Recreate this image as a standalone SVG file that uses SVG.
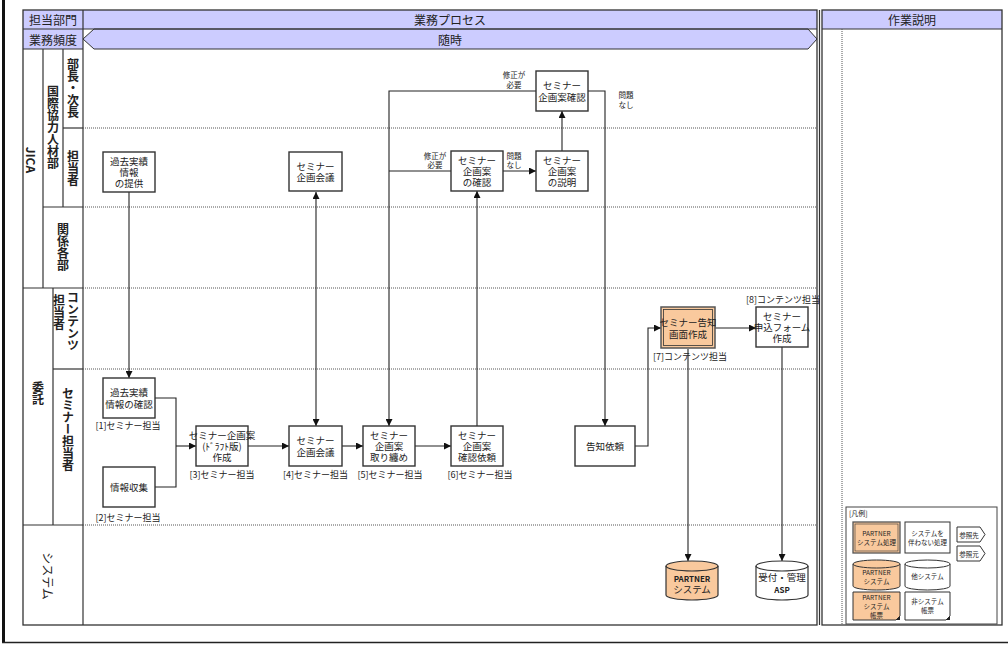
<svg xmlns="http://www.w3.org/2000/svg" width="1008" height="645" viewBox="0 0 1008 645">
<defs>
<style>
text{font-family:"Noto Sans CJK JP","Liberation Sans",sans-serif;fill:#222}
.hdr{font-size:12px;text-anchor:middle;dominant-baseline:central}
.lane{font-size:12px;font-weight:bold;text-anchor:middle;writing-mode:vertical-rl}
.box{fill:#fff;stroke:#333;stroke-width:1.4}
.org{fill:#f9c99d}
.t{font-size:9.5px;text-anchor:middle;dominant-baseline:central}
.lb{font-size:9px;text-anchor:middle;dominant-baseline:central}
.sm{font-size:7.5px;text-anchor:middle;dominant-baseline:central}
.lg{font-size:6.5px;text-anchor:middle;dominant-baseline:central}
.dot{stroke:#555;stroke-width:1;stroke-dasharray:1,1;fill:none}
.ln{stroke:#333;stroke-width:1.2;fill:none}
.c{stroke:#222;stroke-width:1.1;fill:none}
.ca{stroke:#222;stroke-width:1.1;fill:none;marker-end:url(#ah)}
.cb{stroke:#222;stroke-width:1.1;fill:none;marker-end:url(#ah);marker-start:url(#as)}
.cyl{stroke:#333;stroke-width:1.2}
</style>
<marker id="ah" viewBox="0 0 8 8" refX="8" refY="4" markerWidth="7" markerHeight="7" markerUnits="userSpaceOnUse" orient="auto"><path d="M0,0 L8,4 L0,8 Z" fill="#111"/></marker>
<marker id="as" viewBox="0 0 8 8" refX="0" refY="4" markerWidth="7" markerHeight="7" markerUnits="userSpaceOnUse" orient="auto"><path d="M8,0 L0,4 L8,8 Z" fill="#111"/></marker>
</defs>
<rect width="1008" height="645" fill="#fff"/>
<!-- outer frame -->
<line x1="3.5" y1="0" x2="3.5" y2="643" stroke="#111" stroke-width="3"/>
<line x1="2" y1="642.5" x2="1008" y2="642.5" stroke="#222" stroke-width="1.5"/>

<!-- main table -->
<g id="table">
<rect x="23" y="10" width="794" height="19" fill="#ccccff"/>
<rect x="23" y="29" width="60" height="20" fill="#ccccff"/>
<path d="M94,29 H808 L817,39 L808,49 H94 L83,39 Z" fill="#ccccff" stroke="#333" stroke-width="1"/>
<rect x="23" y="10" width="794" height="615" fill="none" stroke="#333" stroke-width="1.3"/>
<line x1="819.5" y1="10" x2="819.5" y2="625" stroke="#333" stroke-width="1.2"/>
<line x1="23" y1="29" x2="817" y2="29" class="ln"/>
<line x1="23" y1="49" x2="83" y2="49" class="ln"/>
<line x1="83" y1="10" x2="83" y2="625" class="ln"/>
<!-- lane label grid -->
<line x1="43" y1="49" x2="43" y2="288" class="ln"/>
<line x1="63" y1="49" x2="63" y2="207" class="ln"/>
<line x1="63" y1="128" x2="83" y2="128" class="ln"/>
<line x1="43" y1="207" x2="83" y2="207" class="ln"/>
<line x1="23" y1="288" x2="83" y2="288" class="ln"/>
<line x1="53" y1="288" x2="53" y2="525" class="ln"/>
<line x1="53" y1="369" x2="83" y2="369" class="ln"/>
<line x1="23" y1="525" x2="83" y2="525" class="ln"/>
<!-- dotted lane separators -->
<line x1="83" y1="128" x2="816" y2="128" class="dot"/>
<line x1="83" y1="207" x2="816" y2="207" class="dot"/>
<line x1="83" y1="288" x2="816" y2="288" class="dot"/>
<line x1="83" y1="369" x2="816" y2="369" class="dot"/>
<line x1="83" y1="525" x2="816" y2="525" class="dot"/>
<!-- header texts -->
<text class="hdr" x="53" y="19.5">担当部門</text>
<text class="hdr" x="53" y="39">業務頻度</text>
<text class="hdr" x="450" y="19.5">業務プロセス</text>
<text class="hdr" x="450" y="39">随時</text>
<!-- lane labels -->
<text transform="translate(31,160) rotate(90)" font-size="12" font-weight="bold" text-anchor="middle" dominant-baseline="central">JICA</text>
<text class="lane" x="53" y="127">国際協力人材部</text>
<text class="lane" x="73" y="88">部長・次長</text>
<text class="lane" x="73" y="168">担当者</text>
<text class="lane" x="63" y="247">関係各部</text>
<text class="lane" x="38" y="393">委託</text>
<text class="lane" x="73" y="321">コンテンツ<tspan x="59" y="312">担当者</tspan></text>
<text class="lane" x="68" y="429" font-size="13">セミナー担当者</text>
<text transform="translate(48,576) rotate(90)" font-size="12" text-anchor="middle" dominant-baseline="central">システム</text>
</g>

<!-- right panel -->
<g id="panel">
<rect x="822" y="10" width="180" height="19" fill="#ccccff"/>
<rect x="822" y="10" width="180" height="615" fill="none" stroke="#333" stroke-width="1.3"/>
<line x1="822" y1="29" x2="1002" y2="29" class="ln"/>
<line x1="842" y1="29" x2="842" y2="625" class="dot"/>
<text class="hdr" x="912" y="19.5">作業説明</text>
</g>

<!-- connectors -->
<g id="connectors">
<path class="ca" d="M129,192 V378"/>
<path class="c" d="M155,398 H176 V487 H155"/>
<path class="ca" d="M176,446 H196"/>
<path class="ca" d="M248,446 H289"/>
<path class="cb" d="M316,192 V426"/>
<path class="ca" d="M342,446 H363"/>
<path class="ca" d="M415,446 H451"/>
<path class="ca" d="M477,426 V191"/>
<path class="ca" d="M503,171 H536"/>
<path class="ca" d="M562,151 V111"/>
<path class="ca" d="M536,91 H389 V426"/>
<path class="c" d="M451,171 H389"/>
<path class="ca" d="M588,91 H605 V426"/>
<path class="ca" d="M635,446 H648 V328 H661"/>
<path class="ca" d="M715,328 H756"/>
<path class="ca" d="M688,349 V561"/>
<path class="ca" d="M782,347 V561"/>
<text class="sm" x="514" y="74">修正が<tspan x="514" dy="10">必要</tspan></text>
<text class="sm" x="626" y="94">問題<tspan x="626" dy="10">なし</tspan></text>
<text class="sm" x="435" y="155">修正が<tspan x="435" dy="9">必要</tspan></text>
<text class="sm" x="514" y="155">問題<tspan x="514" dy="9">なし</tspan></text>
</g>

<!-- nodes -->
<g id="n1"><rect class="box" x="103" y="152" width="52" height="40"/>
<text class="t" x="129" y="161">過去実績<tspan x="129" dy="11">情報</tspan><tspan x="129" dy="11">の提供</tspan></text></g>
<g id="n2"><rect class="box" x="289" y="152" width="53" height="39"/>
<text class="t" x="315.5" y="166">セミナー<tspan x="315.5" dy="11">企画会議</tspan></text></g>
<g id="n3"><rect class="box" x="451" y="151" width="52" height="40"/>
<text class="t" x="477" y="160">セミナー<tspan x="477" dy="11">企画案</tspan><tspan x="477" dy="11">の確認</tspan></text></g>
<g id="n4"><rect class="box" x="536" y="151" width="52" height="40"/>
<text class="t" x="562" y="160">セミナー<tspan x="562" dy="11">企画案</tspan><tspan x="562" dy="11">の説明</tspan></text></g>
<g id="n5"><rect class="box" x="536" y="71" width="52" height="40"/>
<text class="t" x="562" y="85">セミナー<tspan x="562" dy="12">企画案確認</tspan></text></g>
<g id="n6"><rect class="box" x="103" y="378" width="52" height="40"/>
<text class="t" x="129" y="392">過去実績<tspan x="129" dy="12">情報の確認</tspan></text>
<text class="lb" x="128" y="425">[1]セミナー担当</text></g>
<g id="n7"><rect class="box" x="103" y="467" width="52" height="40"/>
<text class="t" x="129" y="487">情報収集</text>
<text class="lb" x="128" y="517">[2]セミナー担当</text></g>
<g id="n8"><rect class="box" x="196" y="426" width="52" height="40"/>
<text class="t" x="222" y="435">セミナー企画案<tspan x="222" dy="11">(ﾄﾞﾗﾌﾄ版)</tspan><tspan x="222" dy="11">作成</tspan></text>
<text class="lb" x="222" y="474">[3]セミナー担当</text></g>
<g id="n9"><rect class="box" x="289" y="426" width="53" height="40"/>
<text class="t" x="315.5" y="440">セミナー<tspan x="315.5" dy="12">企画会議</tspan></text>
<text class="lb" x="315.5" y="474">[4]セミナー担当</text></g>
<g id="n10"><rect class="box" x="363" y="426" width="52" height="40"/>
<text class="t" x="389" y="435">セミナー<tspan x="389" dy="11">企画案</tspan><tspan x="389" dy="11">取り纏め</tspan></text>
<text class="lb" x="390" y="474">[5]セミナー担当</text></g>
<g id="n11"><rect class="box" x="451" y="426" width="52" height="40"/>
<text class="t" x="477" y="435">セミナー<tspan x="477" dy="11">企画案</tspan><tspan x="477" dy="11">確認依頼</tspan></text>
<text class="lb" x="480" y="474">[6]セミナー担当</text></g>
<g id="n12"><rect class="box" x="575" y="426" width="60" height="40"/>
<text class="t" x="605" y="446">告知依頼</text></g>
<g id="n13"><rect x="661" y="307" width="54" height="41" class="org" stroke="#555" stroke-width="1.5"/>
<rect x="663.5" y="309.5" width="49" height="36" fill="none" stroke="#333" stroke-width="0.8"/>
<text class="t" x="688" y="322">セミナー告知<tspan x="688" dy="12">画面作成</tspan></text>
<text class="lb" x="690" y="356">[7]コンテンツ担当</text></g>
<g id="n14"><rect class="box" x="756" y="307" width="52" height="40"/>
<text class="t" x="782" y="316">セミナー<tspan x="782" dy="11">申込フォーム</tspan><tspan x="782" dy="11">作成</tspan></text>
<text class="lb" x="783" y="299">[8]コンテンツ担当</text></g>
<g id="n15"><path class="cyl org" d="M666,566 A26,5 0 0 1 718,566 V595 A26,5 0 0 1 666,595 Z"/>
<path class="cyl" fill="none" d="M666,566 A26,5 0 0 0 718,566"/>
<text x="692" y="578" font-size="8" font-weight="bold" text-anchor="middle" dominant-baseline="central">PARTNER<tspan x="692" dy="11" font-size="9.5" font-weight="normal">システム</tspan></text></g>
<g id="n16"><path class="cyl" fill="#fff" d="M756,566 A26,5 0 0 1 808,566 V595 A26,5 0 0 1 756,595 Z"/>
<path class="cyl" fill="none" d="M756,566 A26,5 0 0 0 808,566"/>
<text class="t" x="782" y="577">受付・管理<tspan x="782" dy="12" font-size="8" font-weight="bold">ASP</tspan></text></g>

<!-- legend -->
<g id="legend">
<rect x="846" y="507" width="151" height="117" fill="#fff" stroke="#444" stroke-width="1"/>
<text x="849" y="513" font-size="7" dominant-baseline="central">[凡例]</text>
<rect x="853" y="522" width="47" height="31" class="org" stroke="#555" stroke-width="1.3"/>
<rect x="855" y="524" width="43" height="27" fill="none" stroke="#333" stroke-width="0.6"/>
<text class="lg" x="876.5" y="533">PARTNER<tspan x="876.5" dy="9">システム処理</tspan></text>
<rect x="905" y="522" width="45" height="31" fill="#fff" stroke="#333" stroke-width="1"/>
<text class="lg" x="927.5" y="533">システムを<tspan x="927.5" dy="9">伴わない処理</tspan></text>
<path d="M957,527 H980 L985,534.5 L980,542 H957 Z" fill="#fff" stroke="#333" stroke-width="1"/>
<text class="lg" x="969" y="534.5">参照先</text>
<path d="M957,546 H980 L985,553.5 L980,561 H957 Z" fill="#fff" stroke="#333" stroke-width="1"/>
<text class="lg" x="969" y="553.5">参照元</text>
<path class="org" stroke="#333" stroke-width="1" d="M853,564 A23.5,4 0 0 1 900,564 V586 A23.5,4 0 0 1 853,586 Z"/>
<path fill="none" stroke="#333" stroke-width="1" d="M853,564 A23.5,4 0 0 0 900,564"/>
<text class="lg" x="876.5" y="572">PARTNER<tspan x="876.5" dy="9">システム</tspan></text>
<path fill="#fff" stroke="#333" stroke-width="1" d="M905,564 A22.5,4 0 0 1 950,564 V586 A22.5,4 0 0 1 905,586 Z"/>
<path fill="none" stroke="#333" stroke-width="1" d="M905,564 A22.5,4 0 0 0 950,564"/>
<text class="lg" x="927.5" y="576">他システム</text>
<path class="org" stroke="#333" stroke-width="1" d="M853,592 H900 V616 L896,620 H853 Z"/>
<path d="M900,616 L896,620 L900,620 Z" fill="#222"/>
<text class="lg" x="876.5" y="597">PARTNER<tspan x="876.5" dy="9">システム</tspan><tspan x="876.5" dy="9">帳票</tspan></text>
<path fill="#fff" stroke="#333" stroke-width="1" d="M905,592 H950 V616 L946,620 H905 Z"/>
<path d="M950,616 L946,620 L950,620 Z" fill="#222"/>
<text class="lg" x="927.5" y="601">非システム<tspan x="927.5" dy="9">帳票</tspan></text>
</g>
</svg>
